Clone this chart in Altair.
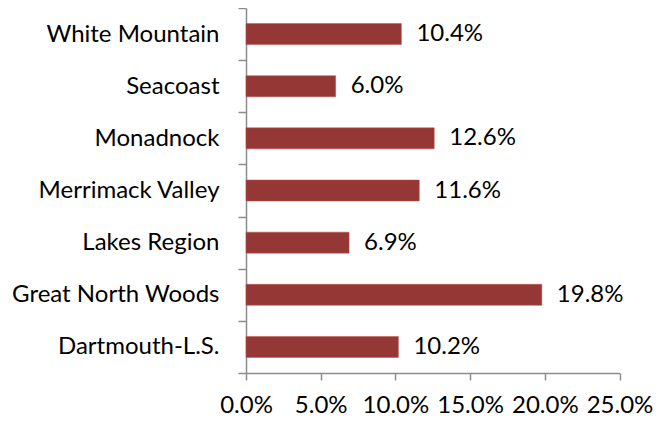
import altair as alt
import pandas as pd

regions = ["White Mountain", "Seacoast", "Monadnock", "Merrimack Valley",
           "Lakes Region", "Great North Woods", "Dartmouth-L.S."]
values = [0.104, 0.060, 0.126, 0.116, 0.069, 0.198, 0.102]

df = pd.DataFrame({"region": regions, "value": values})

FONT = "Lato"
FS = 24

y_enc = alt.Y("region:N", sort=regions, title=None,
              scale=alt.Scale(paddingInner=0, paddingOuter=0),
              axis=alt.Axis(tickBand="extent", tickSize=8, labelPadding=19,
                            labelLimit=400,
                            domainColor="#8c8c8c", tickColor="#8c8c8c",
                            domainWidth=1.5, tickWidth=1.5,
                            labelFont=FONT, labelFontSize=FS, labelColor="black"))
x_enc = alt.X("value:Q", title=None,
              scale=alt.Scale(domain=[0, 0.25], nice=False),
              axis=alt.Axis(values=[0, 0.05, 0.10, 0.15, 0.20, 0.25], format=".1%",
                            grid=False, tickSize=7, labelPadding=13,
                            domainColor="#8c8c8c", tickColor="#8c8c8c",
                            domainWidth=1.5, tickWidth=1.5,
                            labelFont=FONT, labelFontSize=FS, labelColor="black",
                            labelFlush=False))

bars = alt.Chart(df).mark_bar(size=21, color="#953735", stroke="#c0504d",
                              strokeWidth=0.5).encode(x=x_enc, y=y_enc)
labels = alt.Chart(df).mark_text(align="left", baseline="middle", dx=15,
                                 font=FONT, fontSize=FS, color="black").encode(
    x="value:Q", y=alt.Y("region:N", sort=regions),
    text=alt.Text("value:Q", format=".1%"))

chart = (bars + labels).properties(
    width=373.5, height=365,
    autosize=alt.AutoSizeParams(type="none"),
    padding={"left": 238, "top": 0, "right": 34, "bottom": 48},
).configure_view(stroke=None)

chart.save("out.html", embed_options={"renderer": "svg", "actions": False})
